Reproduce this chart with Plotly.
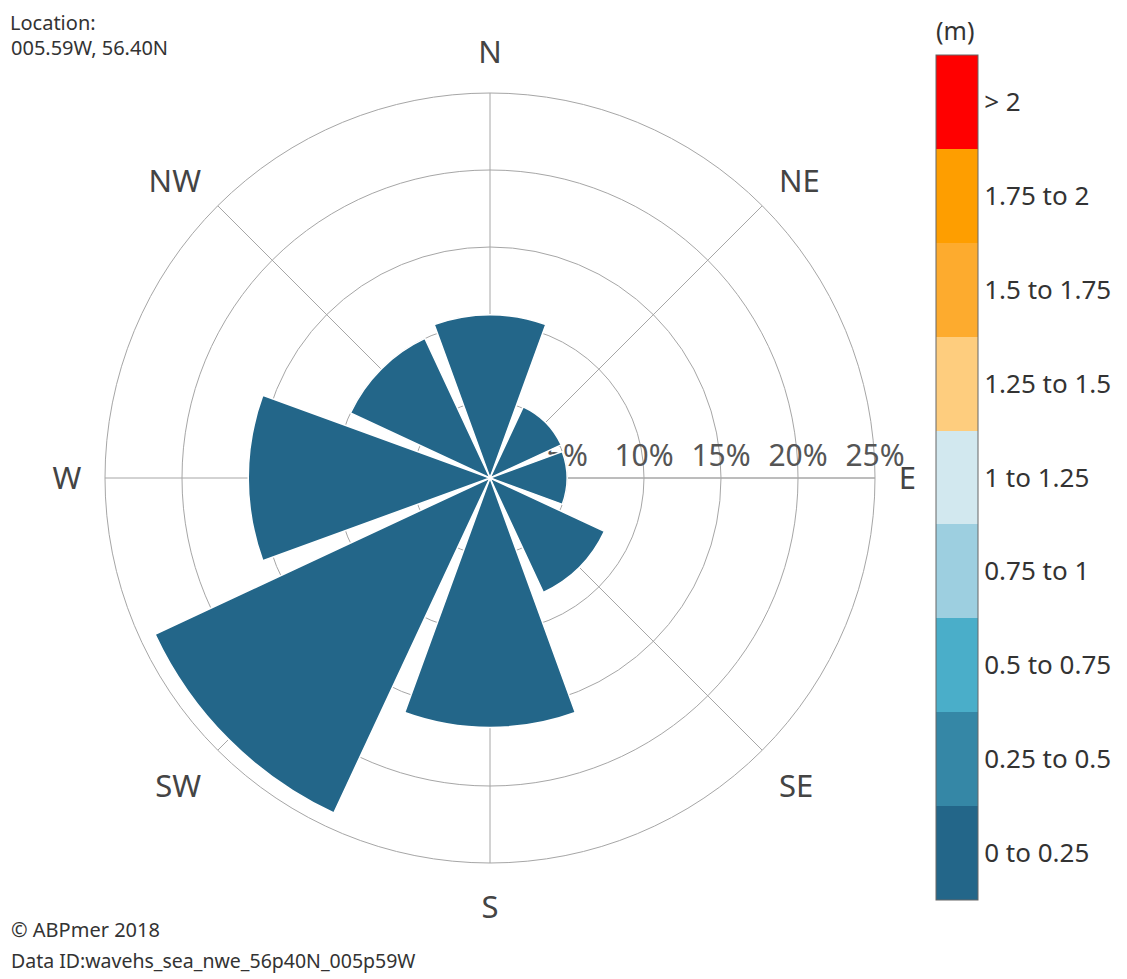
import plotly.graph_objects as go

# ---- data ----
directions = ["N", "NE", "E", "SE", "S", "SW", "W", "NW"]
bearings = [0, 45, 90, 135, 180, 225, 270, 315]
frequency_pct = [10.6, 5.1, 5.0, 8.2, 16.2, 24.0, 15.7, 10.0]   # all in class "0 to 0.25"
bar_class_index = [0, 0, 0, 0, 0, 0, 0, 0]

height_classes = ["0 to 0.25", "0.25 to 0.5", "0.5 to 0.75", "0.75 to 1", "1 to 1.25",
                  "1.25 to 1.5", "1.5 to 1.75", "1.75 to 2", "> 2"]
class_colors = ["#236689", "#3587a6", "#4aaec9", "#9dcfe0", "#d2e8ef",
                "#fecd7e", "#fdab2e", "#fe9e00", "#ff0000"]

radial_ticks = [5, 10, 15, 20, 25]
radial_ticktext = ["5%", "10%", "15%", "20%", "25%"]

W, H = 1127, 979
OFF = 8  # page body margin offset
FONT = "Noto Sans"
GRID = "#a6a6a6"

def px_x(x):
    return (x - OFF) / W

def px_y(y):
    return 1 - (y - OFF) / H

n = len(class_colors)
colorscale = []
for i, c in enumerate(class_colors):
    colorscale.append([i / n, c])
    colorscale.append([(i + 1) / n, c])

fig = go.Figure()
fig.add_trace(go.Barpolar(
    r=frequency_pct,
    theta=bearings,
    width=[40] * len(bearings),
    marker=dict(
        color=[k + 0.5 for k in bar_class_index],
        colorscale=colorscale, cmin=0, cmax=n,
        line=dict(color="white", width=1.5),
        showscale=True,
        colorbar=dict(
            x=px_x(936), xanchor="left", xpad=0,
            y=px_y(477.5), yanchor="middle", ypad=0,
            thickness=42, thicknessmode="pixels",
            len=845, lenmode="pixels",
            outlinewidth=1, outlinecolor="#666666",
            tickmode="array",
            tickvals=[i + 0.5 for i in range(n)],
            ticktext=height_classes,
            ticks="", ticklen=0,
            tickfont=dict(family=FONT, size=26, color="#333333"),
        ),
    ),
    hoverinfo="r+theta",
))

cx, cy, R = 490, 478, 385
fig.update_layout(
    width=W, height=H,
    margin=dict(l=0, r=0, t=0, b=0),
    paper_bgcolor="white",
    showlegend=False,
    font=dict(family=FONT, color="#444444"),
    polar=dict(
        domain=dict(x=[px_x(cx - R), px_x(cx + R)], y=[px_y(cy + R), px_y(cy - R)]),
        bgcolor="white",
        radialaxis=dict(
            range=[0, 25],
            tickmode="array", tickvals=radial_ticks, ticktext=radial_ticktext,
            angle=0, tickangle=0, side="counterclockwise",
            showline=True, linecolor=GRID, linewidth=1,
            gridcolor=GRID, gridwidth=1,
            ticks="",
            tickfont=dict(family=FONT, size=30, color="#555555"),
            layer="below traces",
        ),
        angularaxis=dict(
            direction="clockwise", rotation=90,
            tickmode="array", tickvals=bearings, ticktext=directions,
            ticks="outside", ticklen=17, tickcolor="rgba(0,0,0,0)",
            showline=True, linecolor=GRID, linewidth=1,
            gridcolor=GRID, gridwidth=1,
            tickfont=dict(family=FONT, size=31, color="#444444"),
            layer="below traces",
        ),
    ),
    annotations=[
        dict(text="Location:", x=px_x(9), y=1, xref="paper", yref="paper",
             xanchor="left", yanchor="top", showarrow=False, borderpad=0,
             font=dict(family=FONT, size=20, color="#333333")),
        dict(text="005.59W, 56.40N", x=px_x(9), y=px_y(47), xref="paper", yref="paper",
             xanchor="left", yanchor="middle", showarrow=False,
             font=dict(family=FONT, size=20, color="#333333")),
        dict(text="© ABPmer 2018", x=px_x(9), y=px_y(929), xref="paper", yref="paper",
             xanchor="left", yanchor="middle", showarrow=False,
             font=dict(family=FONT, size=20, color="#333333")),
        dict(text="Data ID:wavehs_sea_nwe_56p40N_005p59W", x=px_x(9), y=px_y(960),
             xref="paper", yref="paper",
             xanchor="left", yanchor="middle", showarrow=False,
             font=dict(family=FONT, size=19.5, color="#333333")),
        dict(text="(m)", x=px_x(955), y=px_y(30), xref="paper", yref="paper",
             xanchor="center", yanchor="middle", showarrow=False,
             font=dict(family=FONT, size=25, color="#333333")),
    ],
)

fig.write_html("out.html")
